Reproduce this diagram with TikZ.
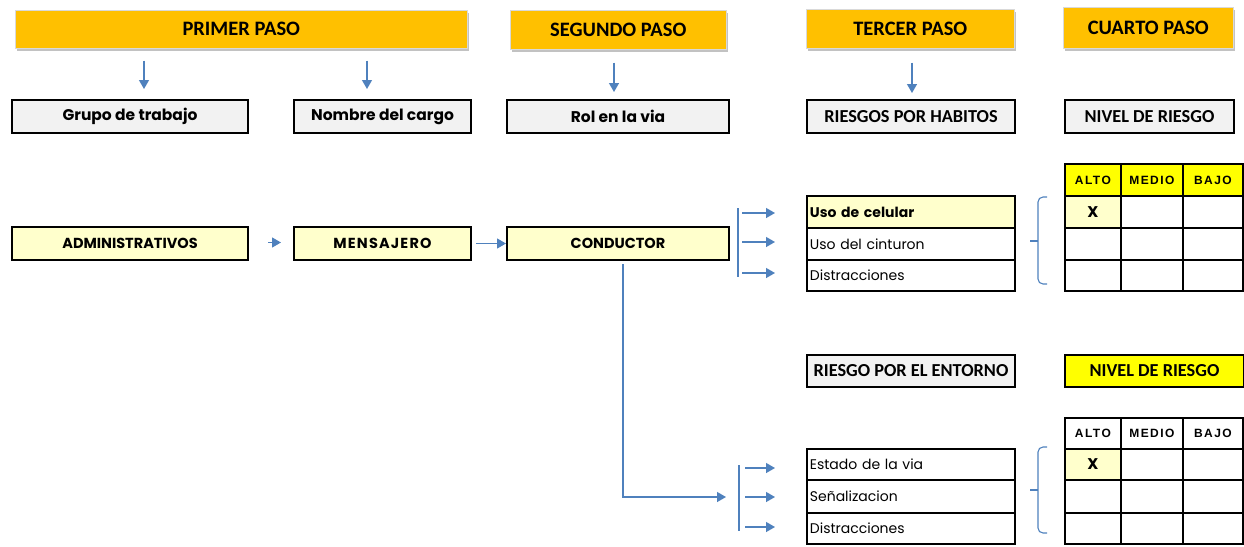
\documentclass[tikz,border=0pt]{standalone}
\usepackage{fontspec}
\setmainfont{Carlito}
\newfontfamily\gothic{Poppins}
\newfontfamily\gothicsp[LetterSpace=8]{Poppins}
\newfontfamily\arialsp[LetterSpace=12]{Liberation Sans}
\usetikzlibrary{arrows.meta,shadows}
\definecolor{hdr}{HTML}{FFC000}
\definecolor{lgray}{HTML}{F2F2F2}
\definecolor{lyel}{HTML}{FFFFCC}
\definecolor{yel}{HTML}{FFFF00}
\definecolor{ablue}{HTML}{4F81BD}
\begin{document}
\begin{tikzpicture}[x=1pt,y=-1pt,
  hdrbox/.style={fill=hdr, draw=gray!30, line width=0.6pt, anchor=north west, inner sep=0pt,
     drop shadow={shadow xshift=2pt, shadow yshift=-3pt, fill=black!40, opacity=0.6},
     font=\fontsize{20.5}{22}\selectfont\bfseries},
  graybox/.style={fill=lgray, draw=black, line width=2pt, anchor=north west, inner sep=0pt,
     minimum height=33pt},
  gtxt/.style={font=\gothic\fontsize{15.5}{17}\selectfont\bfseries},
  ctxt/.style={font=\fontsize{18.3}{20}\selectfont\bfseries},
  yelbox/.style={fill=lyel, draw=black, line width=2pt, anchor=north west, inner sep=0pt,
     minimum height=33pt, font=\gothic\fontsize{14.5}{16}\selectfont\bfseries},
  rowbox/.style={draw=black, line width=1.8pt, anchor=north west, inner xsep=3pt, inner ysep=0pt,
     text width=202pt, align=left, minimum width=208pt, font=\gothic\fontsize{14}{16}\selectfont},
  cell/.style={draw=black, line width=1.8pt, anchor=north west, inner sep=0pt},
  lvl/.style={font=\arialsp\fontsize{12}{13}\selectfont\bfseries},
  arr/.style={draw=ablue, line width=1.3pt, -{Triangle[length=9pt,width=10pt]}},
  bar/.style={draw=ablue, line width=1.3pt},
  brc/.style={draw=ablue, line width=1.1pt, rounded corners=5pt}
]
\useasboundingbox (0,0) rectangle (1244,546);

% headers
\node[hdrbox, minimum width=452pt, minimum height=38pt] (p1) at (15,10) {PRIMER PASO};
\node[hdrbox, minimum width=216pt, minimum height=39pt] (p2) at (510,10) {SEGUNDO PASO};
\node[hdrbox, minimum width=208pt, minimum height=39pt] (p3) at (806,9) {TERCER PASO};
\node[hdrbox, minimum width=170pt, minimum height=41pt] (p4) at (1063,7) {CUARTO PASO};

% second row
\node[graybox, gtxt, minimum width=236pt] (g1) at (11,99) {Grupo de trabajo};
\node[graybox, gtxt, minimum width=177pt] (g2) at (293,99) {Nombre del cargo};
\node[graybox, gtxt, minimum width=222pt] (g3) at (506,99) {Rol en la via};
\node[graybox, ctxt, minimum width=208pt] (g4) at (806,99) {RIESGOS POR HABITOS};
\node[graybox, ctxt, minimum width=169pt] (g5) at (1064,99) {NIVEL DE RIESGO};

% down arrows
\draw[arr] (p1.south -| 144,0) ++(0,12) -- (144,89);
\draw[arr] (p1.south -| 367,0) ++(0,12) -- (367,89);
\draw[arr] (p2.south -| 614,0) ++(0,13) -- (614,92);
\draw[arr] (p3.south -| 912,0) ++(0,14) -- (912,93);

% third row
\node[yelbox, minimum width=236pt] (adm) at (11,226) {ADMINISTRATIVOS};
\node[yelbox, minimum width=177pt, font=\gothicsp\fontsize{14.5}{16}\selectfont\bfseries] (men) at (293,226) {MENSAJERO};
\node[yelbox, minimum width=222pt] (con) at (506,226) {CONDUCTOR};
\draw[arr] ([xshift=19pt,yshift=1pt]adm.east) -- ([xshift=-12pt,yshift=1pt]men.west);
\draw[arr] ([xshift=4pt]men.east) -- (con.west);

% habit risks table
\node[rowbox, fill=lyel, minimum height=32pt, font=\gothic\fontsize{14}{16}\selectfont\bfseries] (h1) at (806,195) {Uso de celular};
\node[rowbox, minimum height=32pt] (h2) at (806,227) {Uso del cinturon};
\node[rowbox, minimum height=31pt] (h3) at (806,259) {Distracciones};

% habit arrows
\coordinate (tb1) at (738,208);
\coordinate (tb2) at (738,277);
\draw[bar] (tb1) -- (tb2);
\draw[arr] (742,213) -- (775,213);
\draw[arr] (742,242) -- (775,242);
\draw[arr] (742,273) -- (775,273);

% bracket top
\draw[brc] (1047,197) -- (1038,197) -- (1038,284) -- (1047,284);
\draw[draw=ablue, line width=1.1pt] (1030,241) -- (1038,241);

% level table top
\node[cell, fill=yel, minimum width=56pt, minimum height=32pt, lvl] (ta1) at (1064,163) {ALTO};
\node[cell, fill=yel, minimum width=62pt, minimum height=32pt, lvl] (ta2) at (1120,163) {MEDIO};
\node[cell, fill=yel, minimum width=60pt, minimum height=32pt, lvl] (ta3) at (1182,163) {BAJO};
\node[fill=lyel, anchor=north west, inner sep=0pt, minimum width=56pt, minimum height=32pt] (tx) at (1064,195) {};
\foreach \c/\x/\w in {1/1064/56,2/1120/62,3/1182/60}{
  \foreach \r/\y/\h in {1/195/32,2/227/32,3/259/31}{
    \node[cell, minimum width=\w pt, minimum height=\h pt] (t\r\c) at (\x,\y) {};
  }}
\node[gtxt] at (t11) {X};

% environment
\node[graybox, ctxt, minimum width=208pt, minimum height=32pt] (e0) at (806,354) {RIESGO POR EL ENTORNO};
\node[graybox, ctxt, fill=yel, minimum width=179pt, minimum height=32pt] (n0) at (1064,354) {NIVEL DE RIESGO};

\node[rowbox, minimum height=31pt] (e1) at (806,448) {Estado de la via};
\node[rowbox, minimum height=33pt] (e2) at (806,479) {Señalizacion};
\node[rowbox, minimum height=31pt] (e3) at (806,512) {Distracciones};

\node[cell, minimum width=56pt, minimum height=31pt, lvl] (ua1) at (1064,417) {ALTO};
\node[cell, minimum width=62pt, minimum height=31pt, lvl] (ua2) at (1120,417) {MEDIO};
\node[cell, minimum width=60pt, minimum height=31pt, lvl] (ua3) at (1182,417) {BAJO};
\node[fill=lyel, anchor=north west, inner sep=0pt, minimum width=56pt, minimum height=31pt] (ux) at (1064,448) {};
\foreach \c/\x/\w in {1/1064/56,2/1120/62,3/1182/60}{
  \foreach \r/\y/\h in {1/448/31,2/479/33,3/512/31}{
    \node[cell, minimum width=\w pt, minimum height=\h pt] (u\r\c) at (\x,\y) {};
  }}
\node[gtxt] at (u11) {X};

% bracket bottom
\draw[brc] (1047,447) -- (1038,447) -- (1038,533) -- (1047,533);
\draw[draw=ablue, line width=1.1pt] (1030,490) -- (1038,490);

% conductor connector
\coordinate (cb) at (726,497);
\draw[arr] ([xshift=5pt,yshift=-3pt]con.south) |- (cb);

% environment arrows
\coordinate (bb1) at (739,465);
\coordinate (bb2) at (739,531);
\draw[bar] (bb1) -- (bb2);
\draw[arr] (745,468) -- (775,468);
\draw[arr] (745,497) -- (775,497);
\draw[arr] (745,527) -- (775,527);
\end{tikzpicture}
\end{document}
